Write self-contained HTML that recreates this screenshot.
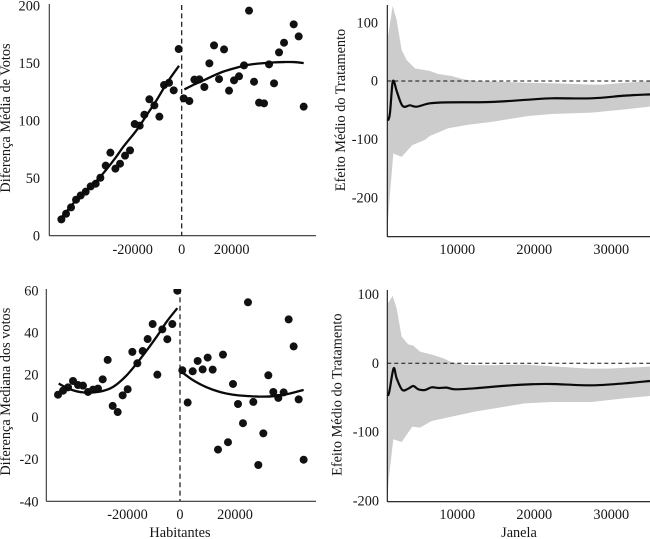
<!DOCTYPE html>
<html lang="pt">
<head>
<meta charset="utf-8">
<title>Efeito do tratamento</title>
<style>
html,body{margin:0;padding:0;background:#fff;width:650px;height:539px;overflow:hidden}
svg{display:block}
text{font-family:"Liberation Serif",serif;font-size:14.3px;fill:#161616}
</style>
</head>
<body>
<svg id="chart" width="650" height="539" viewBox="0 0 650 539" xmlns="http://www.w3.org/2000/svg">
<defs>
<clipPath id="clip-a"><rect x="46" y="4" width="275" height="232"></rect></clipPath>
<clipPath id="clip-b"><rect x="46" y="289" width="275" height="213"></rect></clipPath>
</defs>
</svg>
<script>
// Painel 1: diferença média de votos
const meanDotX = [-48133,-46267,-44267,-42267,-40400,-38400,-36400,-34400,-32533,-30400,-28533,-26533,-24667,-22667,-20667,-18800,-16800,-14933,-12933,-10933,-8933,-7067,-5067,-3200,-1200,800,3067,5067,7067,9067,11067,12933,14933,16933,18933,20933,22933,24933,26933,28933,30933,32933,34933,36933,38933,40933,44800,46800,48800];
const meanDotY = [14.2,19.1,24.6,31.3,35,38.3,42.9,45.2,50.4,60.9,72.2,58.3,62.6,69.6,74.2,97.1,95.7,105.2,118.6,113.3,103.5,131,133,126.4,162.3,119.4,117.1,135.7,135.9,129.3,149.9,165.5,136.2,162,126.1,135.1,138.6,148.1,195.7,133.9,115.7,115.1,149,132.5,159.4,167.8,183.8,173.3,112.2];
const meanFitLeftX = [-48130,-42270,-36400,-32530,-26670,-23330,-18000,-14000,-10000,-6000,-1070];
const meanFitLeftY = [15.7,30.7,42.9,51.3,67.2,77.4,91.9,104.9,118,132.5,147.8];
const meanFitRightX = [1070,5070,9070,12930,16930,20930,24930,28930,32930,36930,40930,44930,48800];
const meanFitRightY = [127.2,131.6,135.4,139.4,142.9,145.5,147.8,149.3,150.1,150.7,151,151,150.1];
const meanYTicks = [0,50,100,150,200];
const meanXTicks = [-20000,0,20000];

// Painel 2: diferença mediana dos votos
const medianDotX = [-44360,-42540,-40720,-38900,-37090,-35270,-33450,-31630,-29820,-28120,-26300,-24480,-22660,-20850,-19030,-17330,-15510,-13570,-11760,-9940,-8240,-6420,-4610,-2790,-970,850,2790,4610,6420,8240,10060,11880,13820,15630,17450,19270,21090,22900,24720,26660,28480,30300,32120,33930,35750,37690,39510,41330,43150,44960];
const medianDotY = [10.7,12.6,14.2,17.2,15.3,15,12,13.1,13.6,18,27.2,5.4,2.5,10.4,13.3,31,25.6,31.4,37.1,44.2,20.2,41.7,37,44.2,60,22.3,7,21.8,26.7,22.7,28.3,22.6,-15.3,29.7,-11.8,15.8,6.3,-2.8,54.5,7.3,-22.6,-7.6,19.9,12,9.2,11.8,46.4,33.6,8.5,-20.1];
const medianFitLeftX = [-44120,-40000,-35150,-29090,-24240,-19390,-14540,-8480,-4850,-970];
const medianFitLeftY = [16,13.3,11.8,12.2,14.5,19.9,27.5,38.2,45.3,51.7];
const medianFitRightX = [600,4850,9700,14540,19390,24240,29090,33940,38780,44960];
const medianFitRightY = [21.5,17.5,14.2,12,10.7,10.1,9.8,10,10.9,13];
const medianYTicks = [-40,-20,0,20,40,60];
const medianXTicks = [-20000,0,20000];

// Painel 3: efeito médio do tratamento (média)
const effectAUpperX = [996,1602,2121,2771,3420,4502,6450,7532,9264,10779,12511,14459,18788,23117,27446,28745,31775,35022];
const effectAUpper = [76,128.6,104.6,53.1,36,21.7,17.1,12,8.6,2.9,0,-0.6,-2.9,-4,-6.3,-6.3,-2.9,-0.6];
const effectALowerX = [909,1126,1688,2771,4156,5801,6450,8831,11429,14459,19221,22251,27446,31775,35022];
const effectALower = [-261,-215,-124,-130,-110,-101,-94,-81,-75,-70,-60,-56.6,-54.3,-48.6,-44];
const effectALineX = [996,1255,1560,1780,2150,2900,3853,4719,6450,8615,14242,19221,22251,27446,31775,35022];
const effectALine = [-68,-55,-6,-1,-18,-42.9,-41.7,-44,-38.3,-36.6,-36,-32,-29.7,-29.7,-25.1,-22.9];
const effectAYTicks = [-200,-100,0,100];
const effectAXTicks = [10000,20000,30000];

// Painel 4: efeito médio do tratamento (mediana)
const effectBUpperX = [996,1602,2121,2771,3636,4286,5152,6883,8182,9264,10996,14459,18788,23117,27013,29610,35022];
const effectBUpper = [87.3,97.9,80,38.8,27.6,25.7,17,12.1,7.3,1.5,-2.4,-2.9,-1.9,-4.8,-7.8,-7.8,-4.8];
const effectBLowerX = [909,1126,1688,2771,4156,5152,6667,9264,12294,18788,22251,27446,31775,35022];
const effectBLower = [-198.7,-164.8,-110.5,-114.4,-92.1,-93.6,-83.9,-77.6,-70.3,-58.2,-56.2,-56.2,-50.9,-47.5];
const effectBLineX = [996,1212,1732,2121,2857,3636,4286,4935,5801,6667,7532,8615,9697,12294,15758,19654,22251,27446,31775,35022];
const effectBLine = [-47.5,-38.8,-7.3,-21.8,-38.8,-36.8,-33,-37.8,-38.8,-34.9,-35.9,-35.4,-37.8,-36.4,-33,-30.5,-30.1,-32,-29.1,-25.7];
const effectBYTicks = [-200,-100,0,100];
const effectBXTicks = [10000,20000,30000];

const svg = document.getElementById('chart');
const NS = 'http://www.w3.org/2000/svg';

function make(tag, attrs, parent) {
  const el = document.createElementNS(NS, tag);
  for (const k in attrs) el.setAttribute(k, attrs[k]);
  parent.appendChild(el);
  return el;
}
function linear(zeroPx, pxPerUnit) {
  return function (v) { return zeroPx + v * pxPerUnit; };
}
function points(xs, ys, sx, sy) {
  return xs.map(function (x, i) { return [sx(x), sy(ys[i])]; });
}
function smooth(pts) {
  let d = 'M' + pts[0][0].toFixed(2) + ' ' + pts[0][1].toFixed(2);
  for (let i = 0; i < pts.length - 1; i++) {
    const p0 = pts[Math.max(i - 1, 0)], p1 = pts[i], p2 = pts[i + 1], p3 = pts[Math.min(i + 2, pts.length - 1)];
    const c1x = p1[0] + (p2[0] - p0[0]) / 6, c1y = p1[1] + (p2[1] - p0[1]) / 6;
    const c2x = p2[0] - (p3[0] - p1[0]) / 6, c2y = p2[1] - (p3[1] - p1[1]) / 6;
    d += 'C' + c1x.toFixed(2) + ' ' + c1y.toFixed(2) + ' ' + c2x.toFixed(2) + ' ' + c2y.toFixed(2) + ' ' + p2[0].toFixed(2) + ' ' + p2[1].toFixed(2);
  }
  return d;
}
function addAxes(g, left, right, top, bottom, color, sx, sy, xTicks, yTicks, xLabelY, yLabelRight, nudge) {
  const yAxis = make('line', {x1: left, x2: left, y1: top, y2: bottom, stroke: color, 'stroke-width': 1.1}, g);
  
  
  const xAxis = make('line', {x1: left, x2: right, y1: bottom, y2: bottom, stroke: color, 'stroke-width': 1.1}, g);
  
  
  xTicks.forEach(function (t) {
    const lab = make('text', {x: sx(t) + (t < 0 ? nudge : 0), y: xLabelY, 'text-anchor': 'middle'}, g);
    lab.textContent = String(t);
    
    
  });
  yTicks.forEach(function (t) {
    const lab = make('text', {x: yLabelRight, y: sy(t) + 4.6, 'text-anchor': 'end'}, g);
    lab.textContent = String(t);
    
    
  });
}
function addTitle(str, x, y, rotate, name) {
  const t = make('text', {x: x, y: y, 'text-anchor': 'middle', 'dominant-baseline': 'central'}, svg);
  if (rotate) t.setAttribute('transform', 'rotate(-90 ' + x + ' ' + y + ')');
  t.textContent = str;
  
  
}
function drawScatter(name, clip, sx, sy, dotX, dotY, fits, geom, xTicks, yTicks) {
  const g = make('g', {}, svg);
  
  
  const cut = make('line', {x1: sx(0), x2: sx(0), y1: geom.vTop, y2: geom.bottom, stroke: '#111', 'stroke-width': 1.2, 'stroke-dasharray': '5 3.4'}, g);
  
  
  addAxes(g, geom.left, geom.right, geom.top, geom.bottom, '#333', sx, sy, xTicks, yTicks, geom.xLabelY, geom.yLabelRight, geom.nudge);
  const dots = make('g', {'clip-path': 'url(#' + clip + ')'}, g);
  
  
  dotX.forEach(function (x, i) {
    const c = make('circle', {cx: sx(x), cy: sy(dotY[i]), r: 4, fill: '#111'}, dots);
    
    
  });
  fits.forEach(function (f) {
    const p = make('path', {d: smooth(points(f[0], f[1], sx, sy)), fill: 'none', stroke: '#0a0a0a', 'stroke-width': 2.3}, g);
    
    
  });
}
function drawEffect(name, sx, sy, upX, up, loX, lo, lineX, line, geom, xTicks, yTicks) {
  const g = make('g', {}, svg);
  
  
  const upperPts = points(upX, up, sx, sy);
  const lowerPts = points(loX, lo, sx, sy).reverse();
  const poly = upperPts.concat(lowerPts).map(function (p) { return p[0].toFixed(2) + ',' + p[1].toFixed(2); }).join(' ');
  const band = make('polygon', {points: poly, fill: '#cccccc'}, g);
  
  
  const zero = make('line', {x1: geom.left, x2: 650, y1: sy(0), y2: sy(0), stroke: '#111', 'stroke-width': 1, 'stroke-dasharray': '4 3'}, g);
  
  
  const est = make('path', {d: smooth(points(lineX, line, sx, sy)), fill: 'none', stroke: '#0a0a0a', 'stroke-width': 2.2}, g);
  
  
  addAxes(g, geom.left, 650, geom.top, geom.bottom, '#111', sx, sy, xTicks, yTicks, geom.xLabelY, geom.yLabelRight, 0);
}

drawScatter('mean-votes-panel', 'clip-a', linear(181.7, 0.0025), linear(235.7, -1.15),
  meanDotX, meanDotY, [[meanFitLeftX, meanFitLeftY], [meanFitRightX, meanFitRightY]],
  {left: 49.3, right: 316, top: 4, vTop: 5, bottom: 235.7, xLabelY: 254, yLabelRight: 40, nudge: 1},
  meanXTicks, meanYTicks);

drawScatter('median-votes-panel', 'clip-b', linear(180, 0.00275), linear(417.3, -2.11),
  medianDotX, medianDotY, [[medianFitLeftX, medianFitLeftY], [medianFitRightX, medianFitRightY]],
  {left: 46.3, right: 316, top: 289, vTop: 289, bottom: 501.3, xLabelY: 519, yLabelRight: 38.5, nudge: 2.5},
  medianXTicks, medianYTicks);

drawEffect('effect-top-panel', linear(380.3, 0.0077), linear(81, -0.5833),
  effectAUpperX, effectAUpper, effectALowerX, effectALower, effectALineX, effectALine,
  {left: 387.3, top: 5, bottom: 236.7, xLabelY: 254, yLabelRight: 378},
  effectAXTicks, effectAYTicks);

drawEffect('effect-bottom-panel', linear(380.3, 0.0077), linear(363.3, -0.6877),
  effectBUpperX, effectBUpper, effectBLowerX, effectBLower, effectBLineX, effectBLine,
  {left: 387.3, top: 290, bottom: 501.7, xLabelY: 519, yLabelRight: 379},
  effectBXTicks, effectBYTicks);

addTitle('Diferença Média de Votos', 6, 118, true, 'y-axis-title-mean-votes');
addTitle('Diferença Mediana dos votos', 6, 391.7, true, 'y-axis-title-median-votes');
addTitle('Efeito Médio do Tratamento', 341, 110, true, 'y-axis-title-effect-top');
addTitle('Efeito Médio do Tratamento', 337.7, 394.7, true, 'y-axis-title-effect-bottom');
addTitle('Habitantes', 180, 533, false, 'x-axis-title-habitantes');
addTitle('Janela', 519, 533, false, 'x-axis-title-janela');
</script>
</body>
</html>
